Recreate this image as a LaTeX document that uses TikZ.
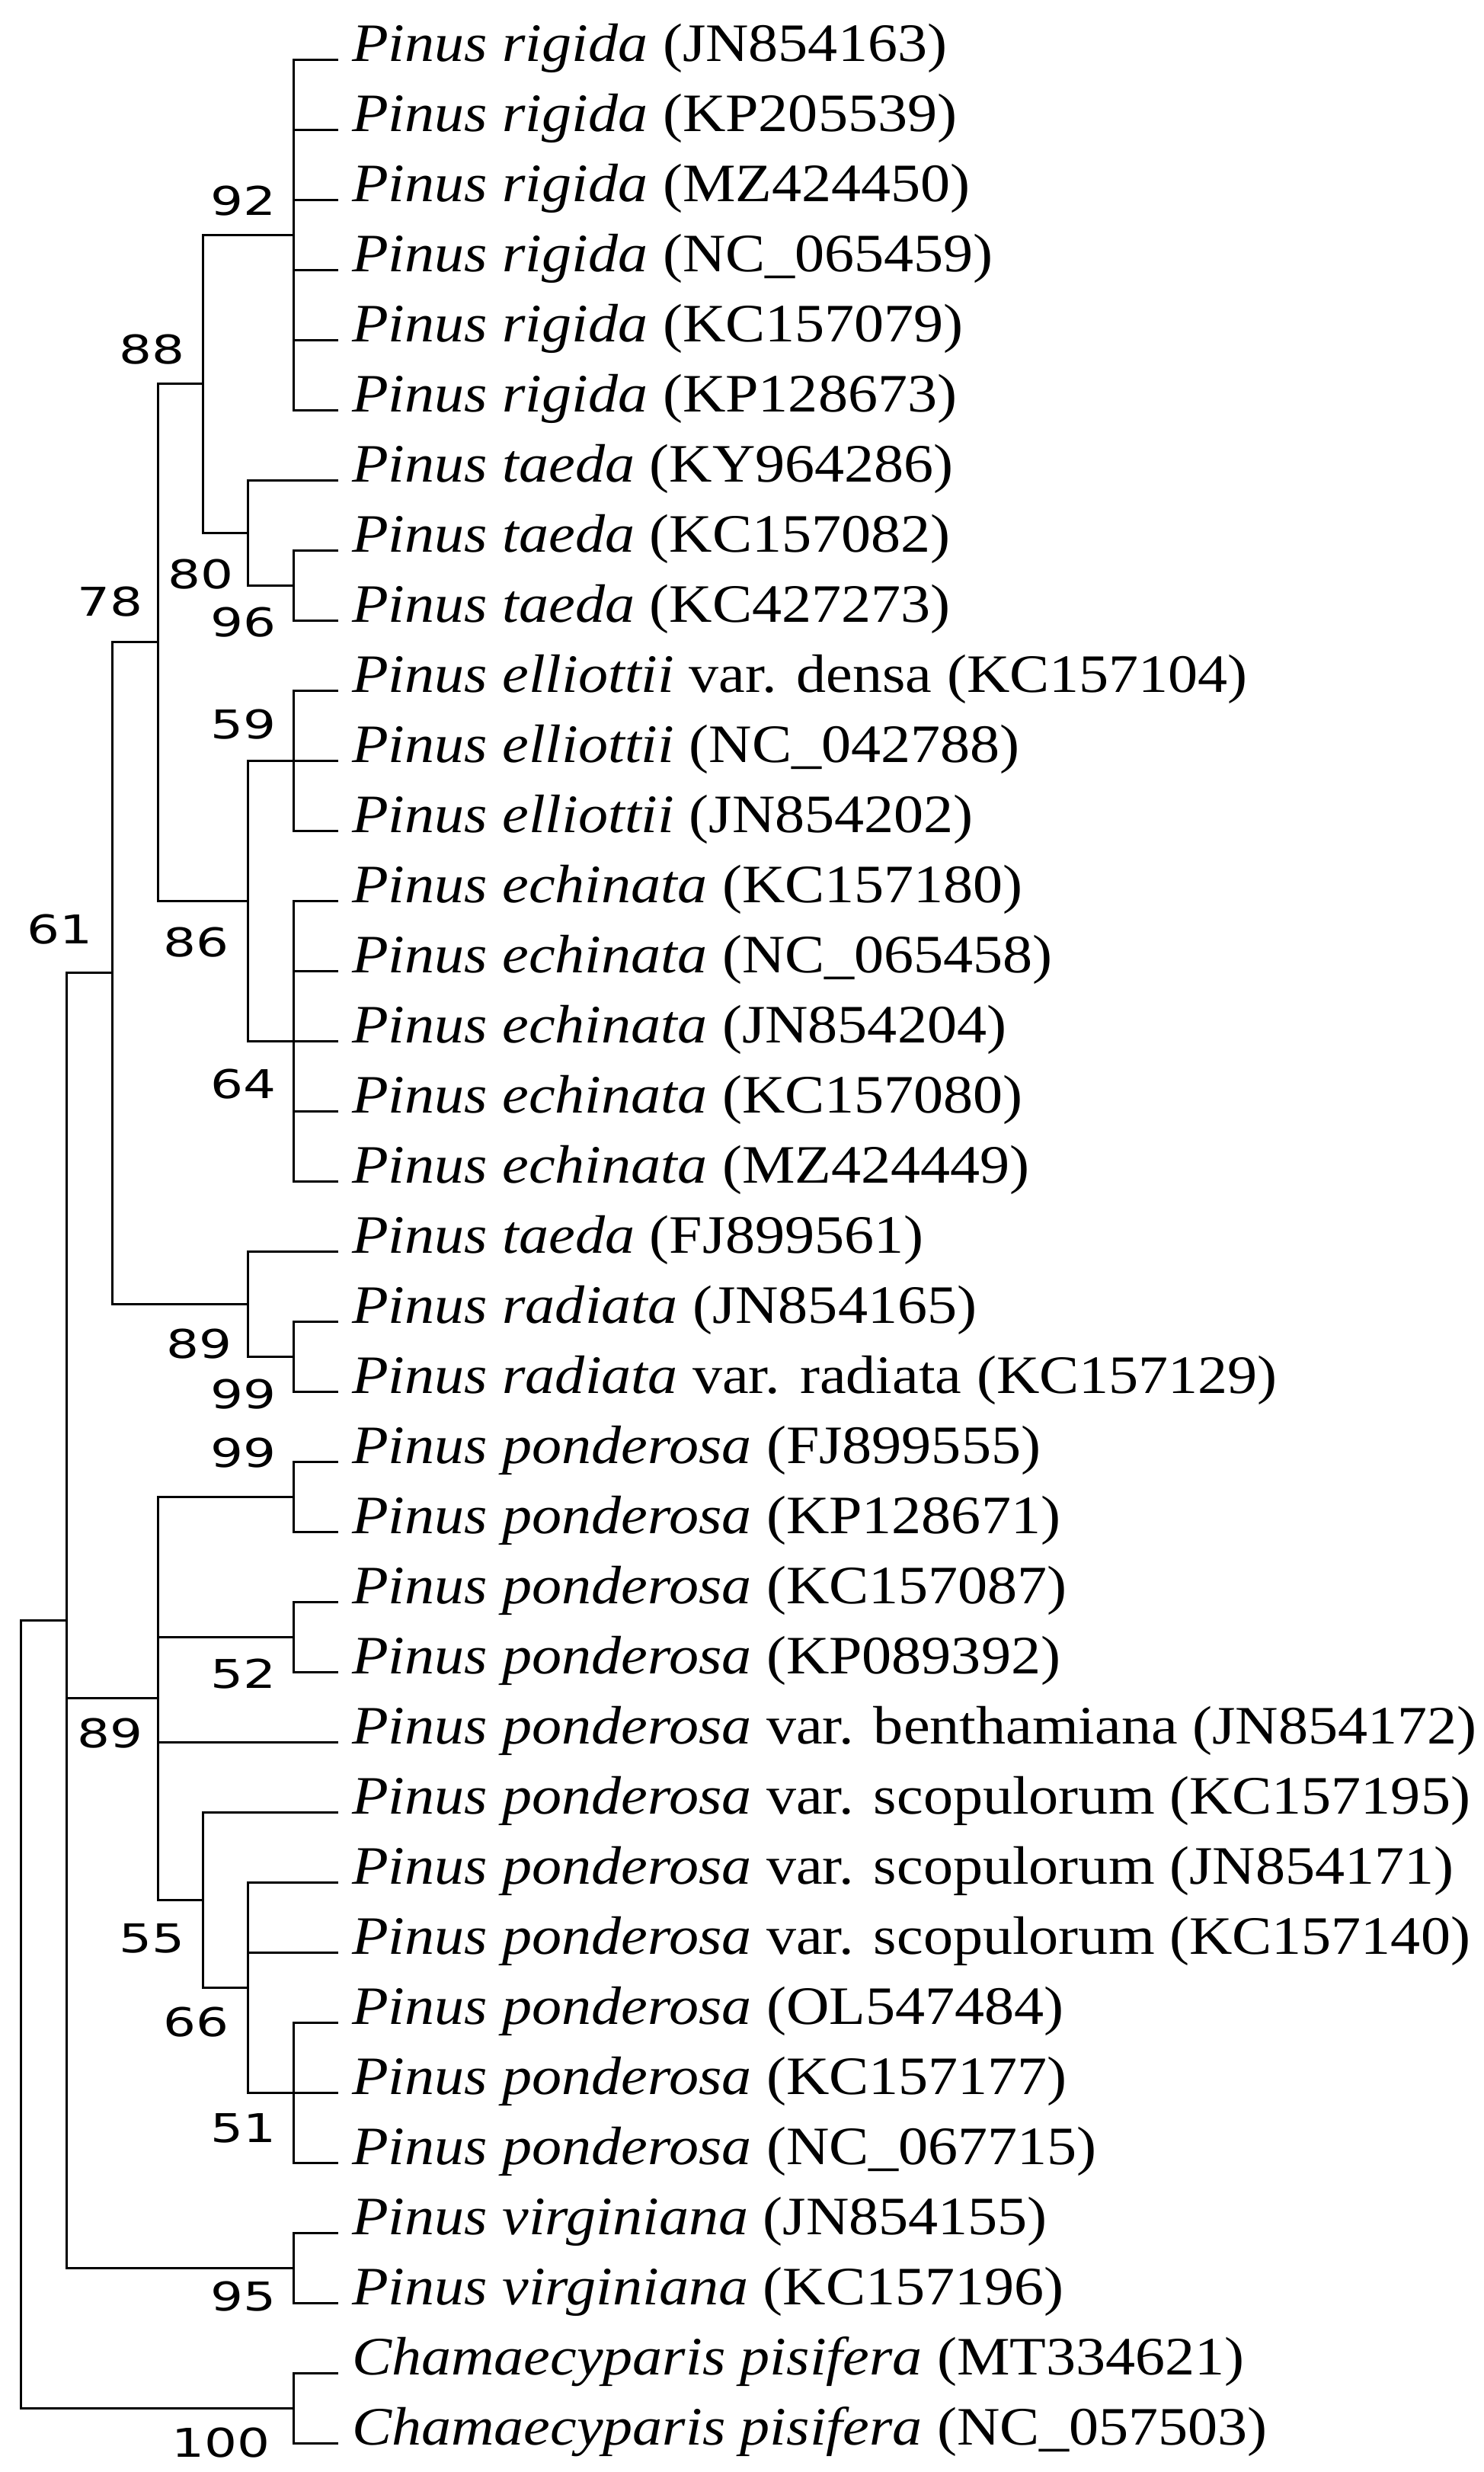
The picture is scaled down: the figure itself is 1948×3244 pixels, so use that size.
\documentclass[tikz,border=0pt]{standalone}
\usepackage{fontspec}
\setmainfont{Liberation Serif}[FakeStretch=1.1]
\newfontfamily\labfont{DejaVu Sans}[FakeStretch=1.3]
\begin{document}
\begin{tikzpicture}[x=1pt,y=-1pt,
  br/.style={line width=3pt,line cap=rect},
  lf/.style={anchor=mid west,inner sep=0pt,font=\fontsize{71}{80}\selectfont},
  bs/.style={inner sep=0pt,font=\labfont\fontsize{52}{58}\selectfont}]
\useasboundingbox (0,-20) rectangle (1948,3224);
% leaves
\def\leafx{442}
\foreach \i/\t in {
0/{\textit{Pinus rigida} (JN854163)},
1/{\textit{Pinus rigida} (KP205539)},
2/{\textit{Pinus rigida} (MZ424450)},
3/{\textit{Pinus rigida} (NC\_065459)},
4/{\textit{Pinus rigida} (KC157079)},
5/{\textit{Pinus rigida} (KP128673)},
6/{\textit{Pinus taeda} (KY964286)},
7/{\textit{Pinus taeda} (KC157082)},
8/{\textit{Pinus taeda} (KC427273)},
9/{\textit{Pinus elliottii} var. densa (KC157104)},
10/{\textit{Pinus elliottii} (NC\_042788)},
11/{\textit{Pinus elliottii} (JN854202)},
12/{\textit{Pinus echinata} (KC157180)},
13/{\textit{Pinus echinata} (NC\_065458)},
14/{\textit{Pinus echinata} (JN854204)},
15/{\textit{Pinus echinata} (KC157080)},
16/{\textit{Pinus echinata} (MZ424449)},
17/{\textit{Pinus taeda} (FJ899561)},
18/{\textit{Pinus radiata} (JN854165)},
19/{\textit{Pinus radiata} var. radiata (KC157129)},
20/{\textit{Pinus ponderosa} (FJ899555)},
21/{\textit{Pinus ponderosa} (KP128671)},
22/{\textit{Pinus ponderosa} (KC157087)},
23/{\textit{Pinus ponderosa} (KP089392)},
24/{\textit{Pinus ponderosa} var. benthamiana (JN854172)},
25/{\textit{Pinus ponderosa} var. scopulorum (KC157195)},
26/{\textit{Pinus ponderosa} var. scopulorum (JN854171)},
27/{\textit{Pinus ponderosa} var. scopulorum (KC157140)},
28/{\textit{Pinus ponderosa} (OL547484)},
29/{\textit{Pinus ponderosa} (KC157177)},
30/{\textit{Pinus ponderosa} (NC\_067715)},
31/{\textit{Pinus virginiana} (JN854155)},
32/{\textit{Pinus virginiana} (KC157196)},
33/{\textit{Chamaecyparis pisifera} (MT334621)},
34/{\textit{Chamaecyparis pisifera} (NC\_057503)}}{
  \coordinate (l\i) at (\leafx,58+92*\i);
  \node[lf] (t\i) at (462,58+92*\i) {\t};
}
% internal nodes
\coordinate (R) at (385,288);
\coordinate (T96) at (385,748);
\coordinate (T80) at (325,679);
\coordinate (A) at (266,483.5);
\coordinate (E) at (385,978);
\coordinate (Ec) at (385,1346);
\coordinate (N86) at (325,1162);
\coordinate (B) at (207,822.75);
\coordinate (Rr) at (385,1760);
\coordinate (Rd) at (325,1691);
\coordinate (C) at (147,1256.9);
\coordinate (P99) at (385,1944);
\coordinate (P52) at (385,2128);
\coordinate (N51) at (385,2726);
\coordinate (N66) at (325,2588);
\coordinate (N55) at (266,2473);
\coordinate (P) at (207,2208.5);
\coordinate (V) at (385,2956);
\coordinate (G) at (87,2106.5);
\coordinate (Ch) at (385,3140);
\coordinate (Root) at (27,2623);
\begin{scope}[br]
\foreach \i in {0,...,5} \draw (R) |- (l\i);
\draw (T96) |- (l7); \draw (T96) |- (l8);
\draw (T80) |- (l6); \draw (T80) |- (T96);
\draw (A) |- (R); \draw (A) |- (T80);
\foreach \i in {9,10,11} \draw (E) |- (l\i);
\foreach \i in {12,...,16} \draw (Ec) |- (l\i);
\draw (N86) |- (E); \draw (N86) |- (Ec);
\draw (B) |- (A); \draw (B) |- (N86);
\draw (Rr) |- (l18); \draw (Rr) |- (l19);
\draw (Rd) |- (l17); \draw (Rd) |- (Rr);
\draw (C) |- (B); \draw (C) |- (Rd);
\draw (P99) |- (l20); \draw (P99) |- (l21);
\draw (P52) |- (l22); \draw (P52) |- (l23);
\foreach \i in {28,29,30} \draw (N51) |- (l\i);
\draw (N66) |- (l26); \draw (N66) |- (l27); \draw (N66) |- (N51);
\draw (N55) |- (l25); \draw (N55) |- (N66);
\draw (P) |- (P99); \draw (P) |- (P52); \draw (P) |- (l24); \draw (P) |- (N55);
\draw (V) |- (l31); \draw (V) |- (l32);
\draw (G) |- (C); \draw (G) |- (P); \draw (G) |- (V);
\draw (Ch) |- (l33); \draw (Ch) |- (l34);
\draw (Root) |- (G); \draw (Root) |- (Ch);
\end{scope}
% bootstrap labels
\foreach \n/\x/\y/\v in {b92/320/244/92, b88/200/439/88, b78/145/770/78, b80/264/734/80,
  b96/320/797/96, b59/320/931/59, b86/258/1217/86, b64/320/1403/64, b61/79/1200/61,
  b89a/262/1744/89, b99a/320/1810/99, b99b/320/1887/99, b52/320/2177/52, b89b/145/2255/89,
  b55/200/2524/55, b66/258/2634/66, b51/320/2773/51, b95/320/2994/95, b100/290/3186/100}
  \node[bs] (\n) at (\x,\y) {\v};
\end{tikzpicture}
\end{document}
